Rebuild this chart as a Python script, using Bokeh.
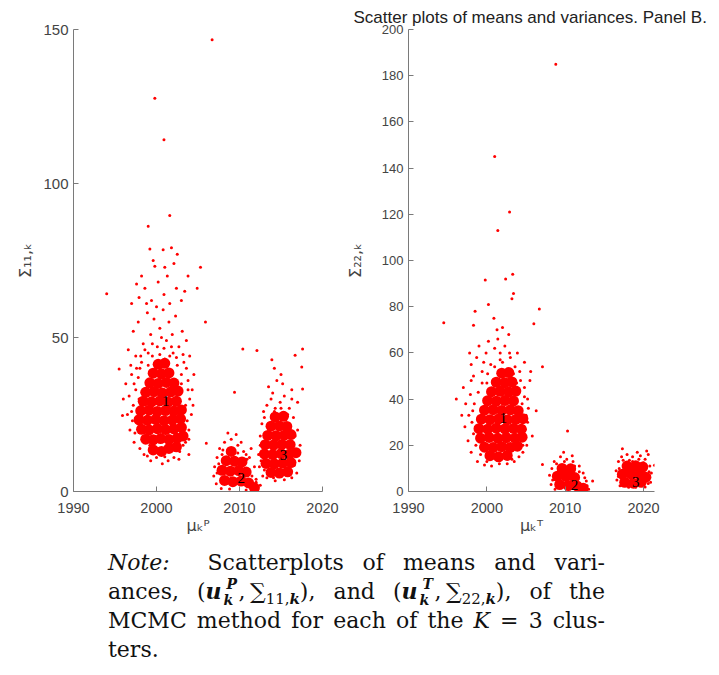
from bokeh.plotting import figure
from bokeh.models import Range1d, FixedTicker, Div, ColumnDataSource
from bokeh.layouts import column, row
from bokeh.embed import file_html
from bokeh.resources import INLINE

# ---------------- data ----------------
# Panel A: (mu_k^P, Sigma_11,k) draws
P_CORE = [
    # cluster 1 dense centre
    (1999.6, 13.5), (2000.6, 13.0), (2001.5, 14.0), (2002.4, 14.5),
    (1998.7, 17.0), (1999.6, 16.8), (2000.5, 17.2), (2001.5, 16.9), (2002.5, 17.3), (2003.2, 18.0),
    (1998.2, 20.2), (1999.1, 20.0), (2000.1, 20.4), (2001.1, 20.1), (2002.1, 20.3), (2003.0, 20.8),
    (1997.9, 23.3), (1998.9, 23.1), (1999.9, 23.4), (2000.9, 23.0), (2001.9, 23.2), (2002.9, 23.6),
    (1998.1, 26.2), (1999.1, 26.4), (2000.1, 26.0), (2001.1, 26.3), (2002.1, 26.1), (2003.0, 26.5),
    (1998.4, 29.3), (1999.4, 29.1), (2000.4, 29.4), (2001.4, 29.0), (2002.4, 29.3),
    (1998.7, 32.2), (1999.7, 32.4), (2000.7, 32.0), (2001.7, 32.3), (2002.6, 32.6),
    (1999.2, 35.3), (2000.2, 35.1), (2001.2, 35.4), (2002.1, 35.2),
    (1999.6, 38.4), (2000.6, 38.2), (2001.5, 38.5),
    (2000.2, 41.3), (2001.0, 41.6),
    # cluster 2 dense centre
    (2008.2, 3.6), (2009.2, 3.2), (2010.2, 3.4), (2011.1, 2.8), (2011.8, 1.2),
    (2007.9, 6.9), (2008.9, 6.6), (2009.9, 6.8), (2010.8, 6.3),
    (2008.4, 10.0), (2009.4, 9.8), (2010.3, 9.6), (2009.0, 13.0),
    # cluster 3 dense centre
    (2013.8, 6.2), (2014.8, 6.0), (2015.8, 6.4),
    (2013.2, 9.1), (2014.2, 9.0), (2015.2, 9.2), (2016.2, 9.4),
    (2013.0, 12.2), (2014.0, 12.0), (2015.0, 12.3), (2016.0, 12.1), (2016.8, 12.6),
    (2013.1, 15.2), (2014.1, 15.1), (2015.1, 15.3), (2016.1, 15.2),
    (2013.4, 18.2), (2014.4, 18.1), (2015.4, 18.3), (2016.2, 18.5),
    (2013.8, 21.2), (2014.8, 21.3), (2015.7, 21.1),
    (2014.3, 24.2), (2015.3, 24.4),
]
P_DRAWS = [
    # cluster 1
    (1997.2, 52), (1997.8, 55), (1998.4, 48), (1998.9, 58), (1999.3, 51), (1999.7, 56), (2000.1, 47),
    (2000.4, 53), (2000.8, 59), (2001.2, 49), (2001.5, 55), (2001.9, 51), (2002.3, 57), (2002.7, 47),
    (2003.1, 52), (2003.6, 49), (1996.6, 46), (1997.5, 44), (2004.0, 44), (2000.6, 50), (1999.0, 45),
    (2002.0, 45), (2001.0, 43), (1998.2, 42), (2003.3, 42), (1999.9, 42),
    (1997.0, 61), (1997.9, 63), (1998.6, 66), (1999.4, 62), (2000.2, 68), (2000.9, 64), (2001.6, 61),
    (2002.4, 66), (2003.0, 62), (2003.8, 70), (1998.2, 70), (1999.6, 75), (2001.3, 70), (2002.1, 74),
    (2003.4, 65), (2000.0, 60), (1998.8, 61),
    (1996.0, 30), (1996.3, 35), (1996.5, 25), (1996.8, 20), (1997.0, 38), (1997.2, 28), (1997.3, 16),
    (1997.5, 33), (1997.1, 23), (1996.9, 41), (2003.8, 36), (2004.0, 30), (2004.2, 25), (2003.9, 20),
    (2004.3, 33), (2003.6, 40), (2004.5, 38), (2003.5, 16), (2003.9, 12), (1998.0, 14), (1998.5, 12),
    (1999.3, 10), (2000.0, 11), (2000.7, 9), (2001.4, 10), (2002.1, 11), (2002.8, 13), (1997.8, 37),
    (2003.0, 38), (1998.0, 40), (2002.5, 41),
    (1997.4, 19), (1997.0, 26), (1996.7, 31), (1997.3, 35), (1997.6, 40), (1998.1, 44), (1999.0, 41),
    (1999.5, 44), (2000.4, 44.5), (2001.6, 44), (2002.4, 43.5), (2003.2, 44.5), (2003.8, 33),
    (2003.5, 28), (2003.7, 23), (2003.4, 21), (2003.9, 17), (2004.4, 28), (1998.6, 46), (2001.8, 47),
    (2000.9, 46.5), (1999.5, 48), (2003.0, 35), (1997.9, 30), (1998.9, 11.5), (2002.7, 10.5),
    (2001.0, 11.3), (2000.2, 13.8), (1999.2, 15), (2003.2, 15),
    (2006.7, 146.7), (1999.8, 127.7), (2000.9, 114.2), (2001.6, 89.6), (1999.0, 86.1), (1999.2, 78.7),
    (2000.8, 78.5), (2001.8, 79.1), (2002.5, 77.0), (2005.3, 72.8), (1999.8, 73.1), (2001.0, 72.8),
    (1994.0, 64.2), (2004.9, 66.0), (2005.9, 55.0), (1997.6, 67.4), (1995.5, 39.8), (1995.9, 24.7),
    (2006.0, 15.7),
    # cluster 2
    (2007.0, 8), (2006.9, 5), (2007.3, 11), (2007.6, 14), (2008.2, 16), (2009.0, 17), (2009.8, 15),
    (2010.5, 13), (2011.2, 11), (2011.8, 8), (2012.0, 4), (2012.2, 1.5), (2011.5, 0.5), (2007.2, 2.5),
    (2007.8, 1), (2008.8, 0.8), (2010.8, 0.5), (2009.6, 18.5), (2008.6, 19), (2010.2, 16), (2007.9, 12),
    (2011.4, 14), (2012.5, 2), (2009.4, 32.2), (2010.4, 46.3),
    (2007.3, 6), (2007.5, 9), (2008.0, 13.5), (2010.9, 10.5), (2011.5, 5), (2012.0, 3), (2009.8, 12.5),
    (2010.8, 12),
    # cluster 3
    (2012.3, 12), (2012.5, 18), (2012.4, 8), (2012.7, 22), (2012.9, 26), (2013.3, 28), (2013.8, 30),
    (2014.3, 27), (2014.9, 29), (2015.4, 31), (2016.0, 27), (2016.5, 24), (2017.0, 20), (2017.3, 15),
    (2017.2, 10), (2016.9, 6), (2016.3, 4.5), (2013.3, 4.5), (2012.8, 5), (2014.3, 3.5), (2015.4, 3.8),
    (2013.5, 34), (2014.5, 36), (2015.2, 35), (2016.3, 33), (2017.0, 29), (2013.9, 42.8), (2016.7, 44.2),
    (2017.5, 40.4), (2017.6, 33.3), (2017.6, 46.3), (2015.0, 38), (2014.2, 40), (2012.1, 45.8),
    (2012.5, 15), (2012.6, 10), (2013.0, 24), (2014.2, 26), (2015.8, 25), (2016.7, 18), (2017.1, 13),
    (2016.6, 8.5), (2013.0, 7), (2015.1, 5), (2014.1, 4.5), (2015.0, 27), (2016.3, 30), (2014.0, 32),
]
P_LABEL_X = [2001.1, 2010.2, 2015.3]
P_LABEL_Y = [29.5, 4.5, 11.7]

# Panel B: (mu_k^T, Sigma_22,k) draws
T_CORE = [
    # cluster 1
    (2000.4, 15.5), (2001.5, 15.0), (2002.6, 15.6),
    (1999.7, 19.2), (2000.8, 19.0), (2001.9, 19.4), (2003.0, 19.1), (2003.9, 19.6),
    (1999.2, 23.1), (2000.3, 23.4), (2001.4, 23.0), (2002.5, 23.3), (2003.6, 23.1), (2004.5, 23.5),
    (1999.0, 27.2), (2000.1, 27.0), (2001.2, 27.4), (2002.3, 27.1), (2003.4, 27.3), (2004.4, 27.0),
    (1999.3, 31.3), (2000.4, 31.1), (2001.5, 31.4), (2002.6, 31.0), (2003.7, 31.2), (2004.6, 31.5),
    (1999.7, 35.2), (2000.8, 35.4), (2001.9, 35.1), (2003.0, 35.3), (2004.0, 35.0),
    (2000.1, 39.3), (2001.2, 39.1), (2002.3, 39.4), (2003.4, 39.2),
    (2000.6, 43.2), (2001.7, 43.4), (2002.8, 43.1), (2003.7, 43.5),
    (2001.2, 47.3), (2002.3, 47.1), (2003.2, 47.4),
    (2001.9, 51.2), (2002.8, 51.5),
    # cluster 2
    (2009.3, 3.0), (2010.4, 2.6), (2011.5, 2.4), (2012.3, 1.4), (2009.0, 6.6), (2010.1, 6.5),
    (2011.2, 6.1), (2009.6, 10.0), (2010.7, 9.8),
    # cluster 3
    (2017.6, 4.0), (2018.7, 3.6), (2019.7, 4.0), (2017.3, 7.5), (2018.4, 7.6), (2019.5, 7.4),
    (2020.3, 6.2), (2017.9, 11.0), (2019.0, 11.1), (2019.9, 10.6),
]
T_DRAWS = [
    # cluster 1
    (1998.0, 55), (1998.7, 58), (1999.4, 52), (1999.9, 60), (2000.5, 55), (2001.0, 62), (2001.7, 57),
    (2002.3, 63), (2003.0, 58), (2003.6, 54), (2004.2, 52), (2004.8, 56), (1998.3, 50), (1997.8, 60),
    (2002.6, 53), (2003.9, 60), (2000.2, 65), (2001.4, 66), (2002.8, 68), (1999.0, 63),
    (1997.0, 45), (1997.3, 38), (1996.8, 33), (1997.2, 28), (1997.6, 22), (1998.0, 17), (1997.9, 42),
    (1998.2, 35), (2004.8, 45), (2005.2, 40), (2005.0, 33), (2004.9, 27), (2004.6, 20), (2004.1, 15),
    (2005.5, 48), (2005.8, 24), (1998.8, 13), (1999.7, 11.5), (2000.6, 11), (2001.6, 12), (2002.6, 12),
    (2003.2, 14), (2000.0, 47), (2003.8, 47), (1996.1, 40), (2007.1, 54), (2007.1, 11.7), (2006.3, 35),
    (1998.3, 25), (1998.1, 30), (1998.4, 38), (1998.9, 43), (1999.4, 47), (2000.1, 51), (2001.0, 54),
    (2002.0, 56), (2003.4, 51), (2004.3, 48), (2004.8, 41), (2005.3, 36), (2005.2, 30), (2005.1, 20),
    (2004.6, 17), (1999.2, 16), (2000.0, 13), (2003.5, 13), (1998.6, 20), (1999.6, 56), (2002.9, 60),
    (2004.5, 38), (1997.7, 33), (1998.0, 48), (2003.9, 43), (2005.6, 52), (2001.7, 60),
    (2008.8, 185), (2001.0, 145), (2002.9, 121), (2001.4, 113), (2003.3, 94), (1994.5, 73),
    (1999.8, 91.6), (2002.4, 92), (2006.7, 79), (2000.2, 81), (1998.3, 72), (2006.0, 72.6),
    (2003.2, 83.4), (2003.4, 85.7), (2000.9, 75), (2002.0, 71), (2001.3, 70), (1998.5, 78),
    # cluster 2
    (2008.0, 7), (2008.3, 10), (2008.6, 13), (2009.4, 15), (2010.2, 14), (2011.0, 13), (2011.8, 11),
    (2012.3, 8), (2012.7, 4.5), (2013.0, 1), (2013.5, 4.5), (2008.2, 3), (2008.7, 1), (2012.0, 0.5),
    (2009.8, 17), (2010.3, 26.2), (2010.9, 15.5),
    (2008.4, 5), (2008.9, 12), (2011.8, 8.5), (2012.5, 6), (2012.8, 2.5), (2009.9, 13), (2011.2, 11),
    # cluster 3
    (2016.6, 5), (2016.5, 9), (2016.8, 13), (2017.2, 15), (2017.9, 16), (2018.6, 15), (2019.4, 14),
    (2020.2, 14), (2020.8, 11), (2021.0, 8), (2020.9, 4), (2020.2, 2), (2017.0, 2.5), (2019.0, 1.8),
    (2017.3, 18.5), (2019.2, 17), (2020.4, 17.5), (2021.4, 11.4), (2018.2, 13.5), (2020.6, 16),
    (2016.9, 10), (2017.4, 13.5), (2018.6, 13), (2020.0, 12.5), (2020.7, 8.5), (2020.6, 3.5),
    (2018.1, 1.8), (2019.6, 15.5), (2016.8, 6.5),
]
T_LABEL_X = [2002.1, 2011.2, 2019.0]
T_LABEL_Y = [32.0, 3.0, 4.0]
CLUSTER_NAMES = ["1", "2", "3"]

P_XTICKS = [1990, 2000, 2010, 2020]
P_YTICKS = [0, 50, 100, 150]
T_XTICKS = [1990, 2000, 2010, 2020]
T_YTICKS = [0, 20, 40, 60, 80, 100, 120, 140, 160, 180, 200]

TITLE = "Scatter plots of means and variances. Panel B."
P_XLABEL = "μₖᴾ"
P_YLABEL = "Σ₁₁,ₖ"
T_XLABEL = "μₖᵀ"
T_YLABEL = "Σ₂₂,ₖ"

RED = "#ff0000"
AXIS_GREY = "#7a7a7a"
TEXT_GREY = "#444444"


def panel(width, border_left, border_right, xr, yr, xticks, yticks, ytick_size,
          core, draws, lx, ly, xlabel, ylabel, ylabel_standoff, title=None):
    p = figure(width=width, height=543, x_range=Range1d(*xr), y_range=Range1d(*yr),
               output_backend="svg", toolbar_location=None,
               min_border_left=border_left, min_border_right=border_right,
               min_border_top=29, min_border_bottom=52)
    if title:
        p.title.text = title
        p.title.align = "left"
        p.title.offset = -55
        p.title.text_font = "Liberation Sans"
        p.title.text_font_size = "17px"
        p.title.text_font_style = "normal"
        p.title.text_color = "#222222"
        p.title.standoff = 6
    p.outline_line_color = None
    p.grid.visible = False
    for ax in (p.xaxis, p.yaxis):
        ax.axis_line_color = AXIS_GREY
        ax.major_tick_line_color = AXIS_GREY
        ax.major_tick_in = 5
        ax.major_tick_out = 0
        ax.minor_tick_line_color = None
        ax.major_label_text_color = TEXT_GREY
        ax.major_label_text_font = "Liberation Sans"
        ax.axis_label_text_color = TEXT_GREY
        ax.axis_label_text_font = "DejaVu Sans"
        ax.axis_label_text_font_style = "normal"
        ax.axis_label_text_font_size = "16px"
    p.xaxis.ticker = FixedTicker(ticks=xticks)
    p.yaxis.ticker = FixedTicker(ticks=yticks)
    p.xaxis.major_label_text_font_size = "14.5px"
    p.yaxis.major_label_text_font_size = ytick_size
    p.xaxis.major_label_standoff = 11
    p.yaxis.major_label_standoff = 5
    p.xaxis.axis_label = xlabel
    p.yaxis.axis_label = ylabel
    p.xaxis.axis_label_standoff = 0
    p.yaxis.axis_label_standoff = ylabel_standoff

    cs = ColumnDataSource(dict(x=[c[0] for c in core], y=[c[1] for c in core]))
    ds = ColumnDataSource(dict(x=[d[0] for d in draws], y=[d[1] for d in draws]))
    p.scatter("x", "y", source=cs, size=11, color=RED, line_color=None)
    p.scatter("x", "y", source=ds, size=3, color=RED, line_color=None)
    ls = ColumnDataSource(dict(x=lx, y=ly, t=CLUSTER_NAMES))
    p.text("x", "y", text="t", source=ls, text_align="center", text_baseline="middle",
           text_font_size="15px", text_color="black", text_font="Liberation Sans")
    return p


p1 = panel(340, 73, 18, (1990, 2020), (0, 150), P_XTICKS, P_YTICKS, "15px",
           P_CORE, P_DRAWS, P_LABEL_X, P_LABEL_Y, P_XLABEL, P_YLABEL, 5)
p2 = panel(371, 68, 57, (1990, 2021.4), (0, 200), T_XTICKS, T_YTICKS, "13px",
           T_CORE, T_DRAWS, T_LABEL_X, T_LABEL_Y, T_XLABEL, T_YLABEL, 14, title=TITLE)

BOX = "position:relative;display:inline-block;width:15px;height:22px;margin-left:2px;"
SUP = "position:absolute;left:3px;top:0px;font-size:14px;line-height:14px;"
SUB = "position:absolute;left:0px;top:16px;font-size:14px;line-height:14px;"


def stacked(sup):
    return (f'<span style="{BOX}"><span style="{SUP}"><b><i>{sup}</i></b></span>'
            f'<span style="{SUB}"><b><i>k</i></b></span></span>')


SUBS = "font-size:0.68em;line-height:0;"
note_html = f"""
<div style="font-family:'DejaVu Serif',serif;font-size:22px;line-height:29px;
color:#111;margin-left:103px;width:497px;padding-top:0px;">
<div style="text-align:justify;text-align-last:justify;"><i>Note:</i>&nbsp; Scatterplots of means and vari-</div>
<div style="text-align:justify;text-align-last:justify;">ances, (<b><i>u</i></b>{stacked('P')},&thinsp;&sum;<sub style="{SUBS}">11,<b><i>k</i></b></sub>), and (<b><i>u</i></b>{stacked('T')},&thinsp;&sum;<sub style="{SUBS}">22,<b><i>k</i></b></sub>), of the</div>
<div style="text-align:justify;text-align-last:justify;">MCMC method for each of the <i>K</i> = 3 clus-</div>
<div>ters.</div>
</div>
"""
note = Div(text=note_html, width=711, height=128)

layout = column(row(p1, p2), note)
open("out.html", "w").write(file_html(layout, INLINE))
